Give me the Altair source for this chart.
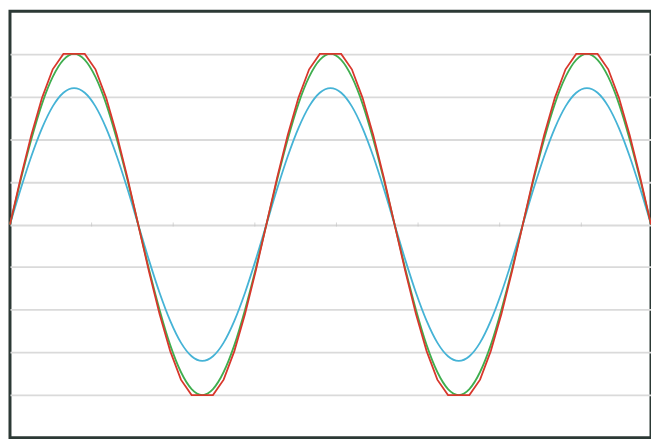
import altair as alt
import pandas as pd

# x positions: angle in degrees, 15-degree steps over 2.5 periods
angles = list(range(0, 901, 15))

green_vals = [
    0, 1.04, 2.00, 2.83, 3.46, 3.86, 4.00, 3.86, 3.46, 2.83, 2.00, 1.04,
    0, -1.04, -2.00, -2.83, -3.46, -3.86, -4.00, -3.86, -3.46, -2.83, -2.00, -1.04,
    0, 1.04, 2.00, 2.83, 3.46, 3.86, 4.00, 3.86, 3.46, 2.83, 2.00, 1.04,
    0, -1.04, -2.00, -2.83, -3.46, -3.86, -4.00, -3.86, -3.46, -2.83, -2.00, -1.04,
    0, 1.04, 2.00, 2.83, 3.46, 3.86, 4.00, 3.86, 3.46, 2.83, 2.00, 1.04,
    0,
]
blue_vals = [
    0, 0.83, 1.60, 2.26, 2.77, 3.09, 3.20, 3.09, 2.77, 2.26, 1.60, 0.83,
    0, -0.83, -1.60, -2.26, -2.77, -3.09, -3.20, -3.09, -2.77, -2.26, -1.60, -0.83,
    0, 0.83, 1.60, 2.26, 2.77, 3.09, 3.20, 3.09, 2.77, 2.26, 1.60, 0.83,
    0, -0.83, -1.60, -2.26, -2.77, -3.09, -3.20, -3.09, -2.77, -2.26, -1.60, -0.83,
    0, 0.83, 1.60, 2.26, 2.77, 3.09, 3.20, 3.09, 2.77, 2.26, 1.60, 0.83,
    0,
]
red_vals = [
    0, 1.09, 2.10, 2.97, 3.64, 4.00, 4.00, 4.00, 3.64, 2.97, 2.10, 1.09,
    0, -1.09, -2.10, -2.97, -3.64, -4.00, -4.00, -4.00, -3.64, -2.97, -2.10, -1.09,
    0, 1.09, 2.10, 2.97, 3.64, 4.00, 4.00, 4.00, 3.64, 2.97, 2.10, 1.09,
    0, -1.09, -2.10, -2.97, -3.64, -4.00, -4.00, -4.00, -3.64, -2.97, -2.10, -1.09,
    0, 1.09, 2.10, 2.97, 3.64, 4.00, 4.00, 4.00, 3.64, 2.97, 2.10, 1.09,
    0,
]
# small category tick marks on the zero line (every 2 radians, in degrees)
tick_positions = [114.59, 229.18, 343.77, 458.37, 572.96, 687.55, 802.14]
grid_values = [-4, -3, -2, -1, 0, 1, 2, 3, 4]

series_names = ["blue", "green", "red"]
series_colors = ["#45b3d6", "#3fae4f", "#d8372c"]

rows = []
for name, vals in zip(series_names, [blue_vals, green_vals, red_vals]):
    for a, v in zip(angles, vals):
        rows.append({"angle": a, "value": v, "series": name})
df = pd.DataFrame(rows)
ticks_df = pd.DataFrame({"angle": tick_positions, "value": [0] * len(tick_positions)})

xscale = alt.Scale(domain=[0, 900], nice=False, zero=False)
yscale = alt.Scale(domain=[-5, 5], nice=False)

base_y = alt.Y(
    "value:Q",
    scale=yscale,
    axis=alt.Axis(
        values=grid_values, labels=False, ticks=False, domain=False, title=None,
        grid=True, gridColor="#dadada", gridWidth=1.8,
    ),
)

ticks = alt.Chart(ticks_df).mark_tick(
    orient="vertical", size=4, thickness=1, color="#c4c4c4"
).encode(
    x=alt.X("angle:Q", scale=xscale, axis=None),
    y=base_y,
)

def line(name, color, interp):
    return alt.Chart(df[df["series"] == name]).mark_line(
        color=color, strokeWidth=1.8, interpolate=interp
    ).encode(
        x=alt.X("angle:Q", scale=xscale, axis=None),
        y=base_y,
        order="angle:Q",
    )

chart = alt.layer(
    ticks,
    line("blue", series_colors[0], "monotone"),
    line("green", series_colors[1], "monotone"),
    line("red", series_colors[2], "linear"),
).properties(
    width=645,
    height=429,
    padding={"left": 2, "top": 2, "right": 0, "bottom": 0},
    autosize=alt.AutoSizeParams(type="none"),
    background="white",
).configure_view(
    stroke="#2c3935",
    strokeWidth=3,
)

chart.save("out.html", embed_options={"renderer": "svg", "actions": False})
